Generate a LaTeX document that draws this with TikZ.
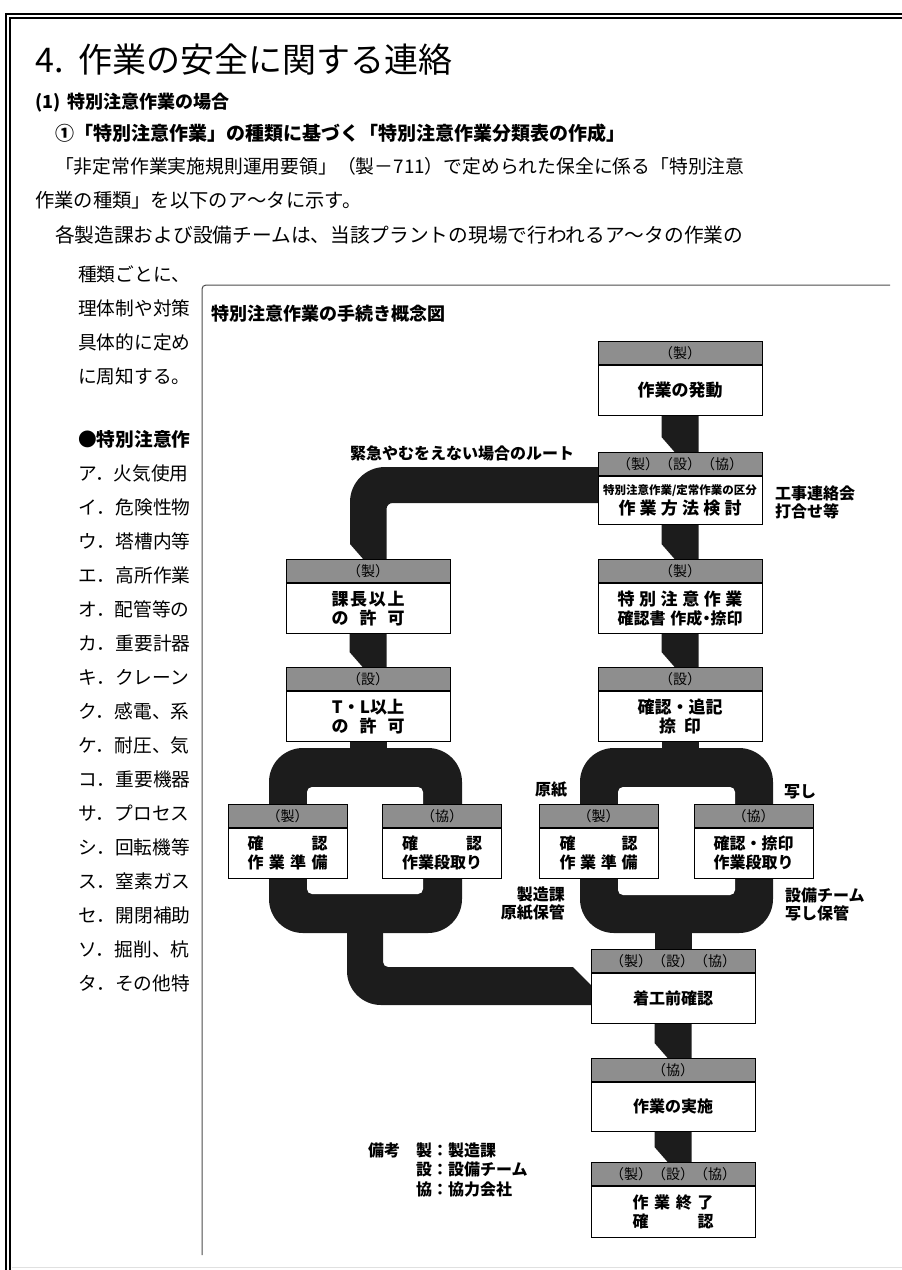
\documentclass[tikz,border=0pt]{standalone}
\usepackage{fontspec}
\setmainfont{Noto Sans CJK JP}
\usetikzlibrary{calc}
\pgfdeclarelayer{bg}
\pgfsetlayers{bg,main}
\definecolor{bandc}{RGB}{28,28,28}
\definecolor{hdrc}{RGB}{142,142,142}
\newcommand\sprd[2]{\makebox[#1][s]{#2}}
\newcommand\fsz[2]{\fontsize{#1}{#2}\selectfont}
\newcommand\chamferbar[2]{\fill[bandc] ([xshift=-18.5pt,yshift=1pt]#1.south) -- ([xshift=18.5pt,yshift=1pt]#1.south) -- ([xshift=18.5pt,yshift=-1pt]#2.north) -- ([xshift=-4.5pt,yshift=-1pt]#2.north) -- ([xshift=-18.5pt,yshift=15pt]#2.north) -- cycle;}
\newcommand\plainbar[2]{\fill[bandc] ([xshift=-18.5pt,yshift=1pt]#1) rectangle ([xshift=18.5pt,yshift=-1pt]#2);}
\begin{document}
\begin{tikzpicture}[x=1pt,y=-1pt,
 hdr/.style={draw=black,line width=0.9pt,fill=hdrc,minimum height=23pt,inner sep=0pt,anchor=north,font=\fsz{14}{16}},
 bdy/.style={draw=black,line width=0.9pt,fill=white,minimum height=50pt,inner sep=0pt,anchor=north,align=center},
 wide/.style={minimum width=164pt},
 narrow/.style={minimum width=119pt},
 bigt/.style={font=\bfseries\fsz{17}{19}},
 smt/.style={font=\bfseries\fsz{16}{19}},
 lbl/.style={inner sep=0pt,font=\bfseries\fsz{16}{18}},
 txt/.style={inner sep=0pt,anchor=west,font=\fsz{18.7}{20}},
 para/.style={inner sep=0pt,anchor=west,font=\fsz{19.3}{21}}]
\useasboundingbox (0,0) rectangle (902,1270);
% page border
\draw[line width=2.3pt] (902,13.8) -- (6.2,13.8) -- (6.2,1270);
\draw[line width=1.8pt] (902,18.3) -- (10.2,18.3) -- (10.2,1270);
\draw[black!12,line width=1pt] (12,1267) -- (902,1267);
% top text
\node[txt,font=\fsz{34}{36}] (title) at (35,60) {4.\hspace{0.45em}作業の安全に関する連絡};
\node[txt,font=\bfseries\fsz{18}{20}] (sec) at (35,103) {(1)\hspace{0.4em}特別注意作業の場合};
\node[txt,font=\bfseries\fsz{19}{21}] (sub) at (55,133) {①「特別注意作業」の種類に基づく「特別注意作業分類表の作成」};
\node[para,font=\fsz{18.8}{21}] (p1) at (55,166) {「非定常作業実施規則運用要領」（製－711）で定められた保全に係る「特別注意};
\node[para] (p2) at (35,200) {作業の種類」を以下のア〜タに示す。};
\node[para,font=\fsz{19.7}{21}] (p3) at (55,235) {各製造課および設備チームは、当該プラントの現場で行われるア〜タの作業の};
% left column
\node[txt] (c1) at (78,274) {種類ごとに、};
\node[txt] (c2) at (78,308) {理体制や対策};
\node[txt] (c3) at (78,342) {具体的に定め};
\node[txt] (c4) at (78,376) {に周知する。};
\node[txt,font=\bfseries\fsz{18.7}{20}] (c5) at (78,439) {●特別注意作};
\foreach \t [count=\i] in {ア．火気使用,イ．危険性物,ウ．塔槽内等,エ．高所作業,オ．配管等の,カ．重要計器,キ．クレーン,ク．感電、系,ケ．耐圧、気,コ．重要機器,サ．プロセス,シ．回転機等,ス．窒素ガス,セ．開閉補助,ソ．掘削、杭,タ．その他特}
  \node[txt] (li\i) at (78,{473+34*(\i-1)}) {\t};
% diagram frame
\draw[black!70,line width=1pt,rounded corners=4pt] (890,285) -- (202,285) -- (202,1255);
\node[anchor=west,inner sep=0pt,font=\bfseries\fsz{18}{20}] (dtitle) at (211,314) {特別注意作業の手続き概念図};
% boxes
\node[hdr,wide] (h1) at (680,341) {（製）};
\node[bdy,wide,bigt] (b1) at (h1.south) {作業の発動};
\node[hdr,wide] (h2) at (680,452) {（製）（設）（協）};
\node[bdy,wide,minimum height=48pt] (b2) at (h2.south) {{\bfseries\fsz{11.5}{13}特別注意作業/定常作業の区分}\\[3pt]{\bfseries\fsz{17}{19}\sprd{123pt}{作\hfill 業\hfill 方\hfill 法\hfill 検\hfill 討}}};
\node[hdr,wide] (h3) at (368,559) {（製）};
\node[bdy,wide,bigt] (b3) at (h3.south) {\sprd{73pt}{課\hfill 長\hfill 以\hfill 上}\\\sprd{73pt}{の\hfill 許\hfill 可}};
\node[hdr,wide] (h4) at (680,559) {（製）};
\node[bdy,wide,bigt] (b4) at (h4.south) {\sprd{125pt}{特\hfill 別\hfill 注\hfill 意\hfill 作\hfill 業}\\{\fsz{16}{19}\sprd{125pt}{確認書\hfill 作成\kern-4pt・\kern-4pt捺印}}};
\node[hdr,wide] (h5) at (368,667) {（設）};
\node[bdy,wide,bigt] (b5) at (h5.south) {T・L以上\\\sprd{73pt}{の\hfill 許\hfill 可}};
\node[hdr,wide] (h6) at (680,667) {（設）};
\node[bdy,wide,bigt] (b6) at (h6.south) {確認・追記\\\sprd{42pt}{捺\hfill 印}};
\node[hdr,narrow] (h7) at (287.5,804) {（製）};
\node[bdy,narrow,smt] (b7) at (h7.south) {\sprd{80pt}{確\hfill 認}\\\sprd{80pt}{作\hfill 業\hfill 準\hfill 備}};
\node[hdr,narrow] (h8) at (442,804) {（協）};
\node[bdy,narrow,smt] (b8) at (h8.south) {\sprd{80pt}{確\hfill 認}\\作業段取り};
\node[hdr,narrow] (h9) at (598.5,804) {（製）};
\node[bdy,narrow,smt] (b9) at (h9.south) {\sprd{78pt}{確\hfill 認}\\\sprd{78pt}{作\hfill 業\hfill 準\hfill 備}};
\node[hdr,narrow] (h10) at (753.5,804) {（協）};
\node[bdy,narrow,smt] (b10) at (h10.south) {確認・捺印\\作業段取り};
\node[hdr,wide] (h11) at (673,949) {（製）（設）（協）};
\node[bdy,wide,smt] (b11) at (h11.south) {着工前確認};
\node[hdr,wide] (h12) at (673,1058) {（協）};
\node[bdy,wide,smt,minimum height=49pt] (b12) at (h12.south) {作業の実施};
\node[hdr,wide] (h13) at (673,1162) {（製）（設）（協）};
\node[bdy,wide,smt,minimum height=51pt] (b13) at (h13.south) {\sprd{81pt}{作\hfill 業\hfill 終\hfill 了}\\\sprd{81pt}{確\hfill 認}};
% labels
\node[lbl] (route) at (462,453) {緊急やむをえない場合のルート};
\node[lbl,anchor=west,align=left] (kouji) at (775,502.5) {工事連絡会\\打合せ等};
\node[lbl] (genshi) at (551,790) {原紙};
\node[lbl] (utsushi) at (800,792) {写し};
\node[lbl,anchor=east,align=right] (seizo) at (565,904) {製造課\\原紙保管};
\node[lbl,anchor=west,align=left] (setsubi) at (785,904) {設備チーム\\写し保管};
\node[lbl,anchor=west] (biko) at (368,1150) {備考};
\node[lbl,anchor=west,align=left,font=\bfseries\fsz{16}{19.5}] (legend) at (416,1169.5) {製：製造課\\設：設備チーム\\協：協力会社};
% bands
\begin{pgfonlayer}{bg}
 \chamferbar{b1}{h2}
 \chamferbar{b2}{h4}
 \chamferbar{b3}{h5}
 \chamferbar{b4}{h6}
 \chamferbar{b11}{h12}
 \chamferbar{b12}{h13}
 \fill[bandc] (605,467) -- (385,467) .. controls (365.7,467) and (350,482.7) .. (350,502) -- (350,544) -- (364,560) -- (386.5,560) -- (386.5,509) .. controls (386.5,505.7) and (389.2,503) .. (392.5,503) -- (605,503) -- cycle;
 \coordinate (rLtop) at (368,749);
 \coordinate (rRtop) at (680,749);
 \coordinate (rRbot) at (673,932);
 \plainbar{b5.south}{rLtop}
 \plainbar{b6.south}{rRtop}
 \plainbar{rRbot}{h11.north}
 \fill[bandc,rounded corners=34pt] (269,748) rectangle (462,933);
 \fill[white,rounded corners=5pt] (307,787) rectangle (423,894);
 \fill[bandc,rounded corners=34pt] (580,748) rectangle (773,933);
 \fill[white,rounded corners=5pt] (618,787) rectangle (735,895);
 \fill[bandc] (347,925) -- (383,925) -- (383,962) .. controls (383,964.8) and (385.2,967) .. (388,967) -- (573,967) -- (592,986) -- (600,986) -- (600,1005) -- (381,1005) .. controls (362.2,1005) and (347,989.8) .. (347,971) -- cycle;
\end{pgfonlayer}
\end{tikzpicture}
\end{document}
